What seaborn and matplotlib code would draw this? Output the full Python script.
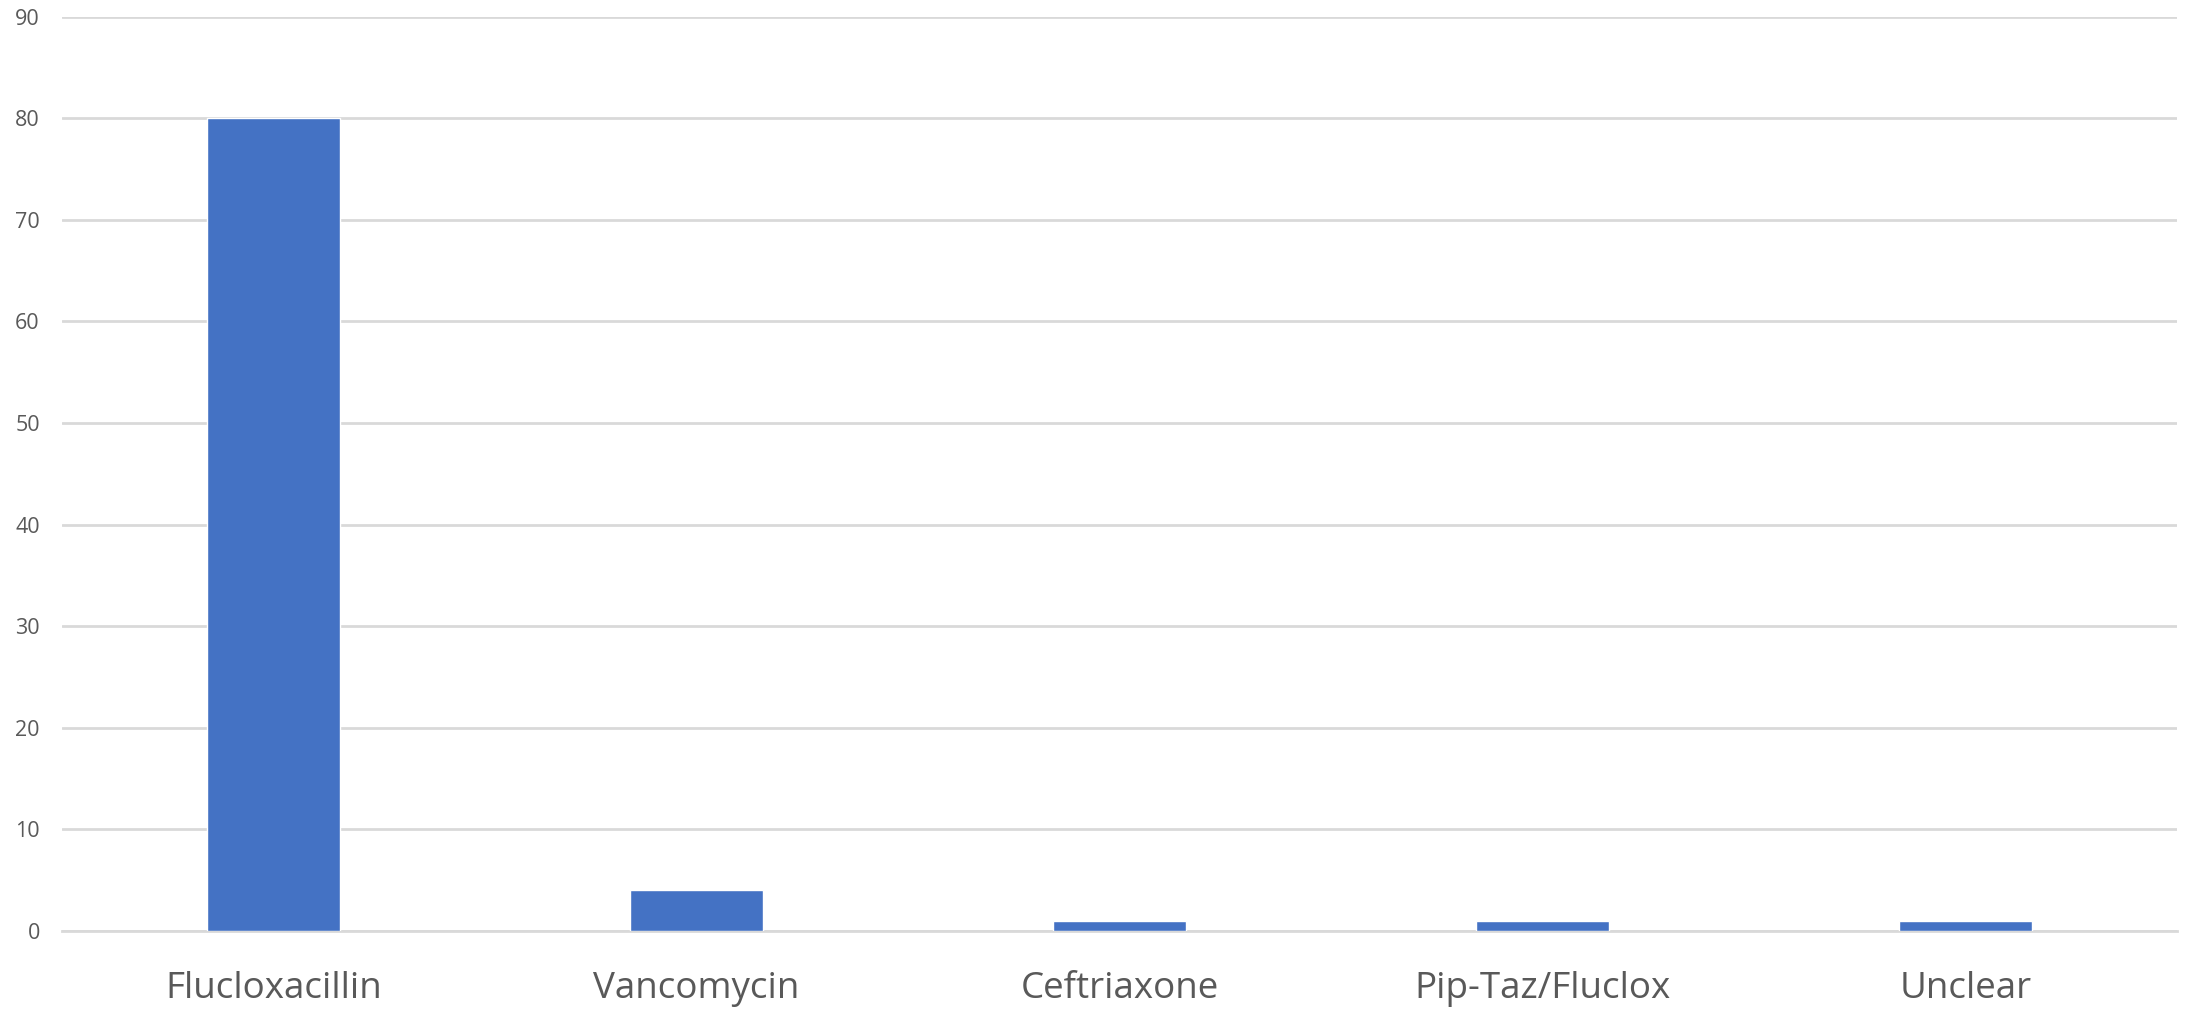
import matplotlib
matplotlib.use("Agg")
import matplotlib.pyplot as plt
import seaborn as sns
import pandas as pd

categories = ["Flucloxacillin", "Vancomycin", "Ceftriaxone", "Pip-Taz/Fluclox", "Unclear"]
counts = [80, 4, 1, 1, 1]
y_ticks = [0, 10, 20, 30, 40, 50, 60, 70, 80, 90]

sns.set_theme(style="white")
plt.rcParams["font.family"] = ["Open Sans", "DejaVu Sans"]

df = pd.DataFrame({"antibiotic": categories, "count": counts})

fig = plt.figure(figsize=(21.88, 10.10), dpi=100)
ax = fig.add_axes([62 / 2188, 1 - 931 / 1010, (2177 - 62) / 2188, (931 - 16.7) / 1010])

sns.barplot(data=df, x="antibiotic", y="count", color="#4472C4", width=0.315,
            saturation=1, ax=ax, zorder=3)

ax.set_ylim(0, 90)
ax.set_xlim(-0.5, len(categories) - 0.5)
ax.set_yticks(y_ticks)
ax.yaxis.grid(True, color="#d9d9d9", linewidth=2, zorder=0)
ax.xaxis.grid(False)
for s in ["top", "right", "left"]:
    ax.spines[s].set_visible(False)
ax.spines["bottom"].set_color("#d9d9d9")
ax.spines["bottom"].set_linewidth(2)
ax.set_xlabel("")
ax.set_ylabel("")
ax.tick_params(axis="y", length=0, pad=16, labelsize=15.5, labelcolor="#595959")
ax.tick_params(axis="x", length=0, pad=29, labelsize=26.5, labelcolor="#595959")

fig.savefig("out.png", dpi=100, facecolor="white")
